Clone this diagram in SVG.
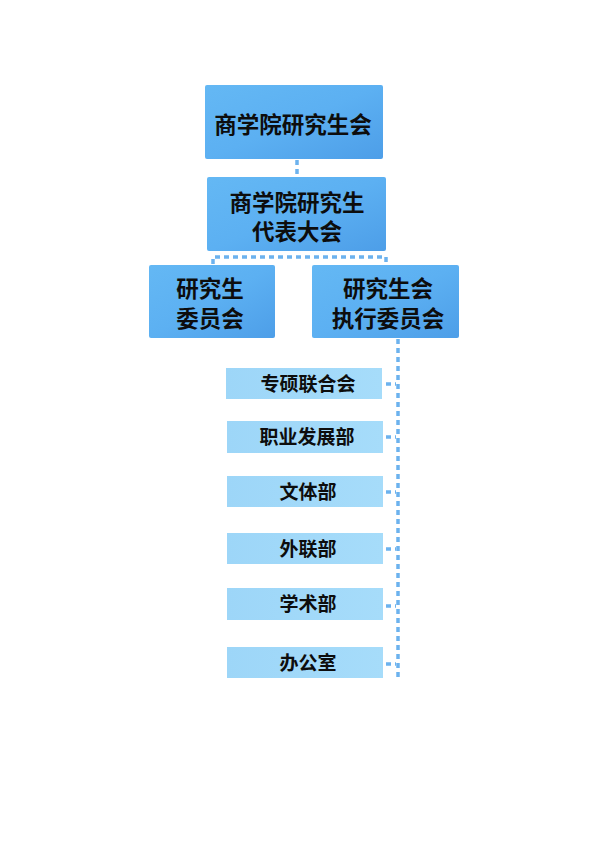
<svg xmlns="http://www.w3.org/2000/svg" width="595" height="842" viewBox="0 0 595 842">
<defs>
<linearGradient id="big" x1="0" y1="0" x2="1" y2="1">
<stop offset="0" stop-color="#64b8f4"/>
<stop offset="0.5" stop-color="#5cb0f2"/>
<stop offset="1" stop-color="#4d9ee8"/>
</linearGradient>
<linearGradient id="small" x1="0" y1="0" x2="1" y2="0">
<stop offset="0" stop-color="#9dd6f8"/>
<stop offset="1" stop-color="#a6dcfa"/>
</linearGradient>
<style>
.big{fill:url(#big);}
.small{fill:url(#small);}
.t{font-family:"Noto Sans CJK SC","Noto Sans",sans-serif;font-weight:bold;fill:#0d0d0d;text-anchor:middle;}
.tb{font-size:22.5px;}
.ts{font-size:19px;}
.c{stroke:#6cb2ee;stroke-width:3.5;fill:none;stroke-dasharray:5 4;}
</style>
</defs>
<rect width="595" height="842" fill="#ffffff"/>
<g id="connectors">
<line class="c" x1="297" y1="160" x2="297" y2="177"/>
<path class="c" d="M213 264 V257 H386 V264"/>
<line class="c" x1="398" y1="339" x2="398" y2="678" stroke-dasharray="6 5"/>
<line class="c" x1="386" y1="384" x2="396" y2="384" stroke-dasharray="6 3"/>
<line class="c" x1="386" y1="437" x2="396" y2="437" stroke-dasharray="6 3"/>
<line class="c" x1="386" y1="492" x2="396" y2="492" stroke-dasharray="6 3"/>
<line class="c" x1="386" y1="549" x2="396" y2="549" stroke-dasharray="6 3"/>
<line class="c" x1="386" y1="606" x2="396" y2="606" stroke-dasharray="6 3"/>
<line class="c" x1="386" y1="664" x2="396" y2="664" stroke-dasharray="6 3"/>
</g>
<g id="n1">
<rect class="big" x="205" y="85" width="178" height="74" rx="2"/>
<text class="t tb" x="293" y="133">商学院研究生会</text>
</g>
<g id="n2">
<rect class="big" x="207" y="177" width="179" height="74" rx="2"/>
<text class="t tb" x="297" y="211">商学院研究生</text>
<text class="t tb" x="297" y="240">代表大会</text>
</g>
<g id="n3">
<rect class="big" x="149" y="265" width="126" height="73" rx="2"/>
<text class="t tb" x="210" y="297">研究生</text>
<text class="t tb" x="210" y="327">委员会</text>
</g>
<g id="n4">
<rect class="big" x="312" y="265" width="147" height="73" rx="2"/>
<text class="t tb" x="388" y="297">研究生会</text>
<text class="t tb" x="388" y="327">执行委员会</text>
</g>
<g id="n5">
<rect class="small" x="226" y="368" width="156" height="31"/>
<text class="t ts" x="308" y="391">专硕联合会</text>
</g>
<g id="n6">
<rect class="small" x="227" y="421" width="156" height="32"/>
<text class="t ts" x="307" y="444">职业发展部</text>
</g>
<g id="n7">
<rect class="small" x="227" y="476" width="156" height="31"/>
<text class="t ts" x="308" y="499">文体部</text>
</g>
<g id="n8">
<rect class="small" x="227" y="533" width="156" height="31"/>
<text class="t ts" x="308" y="556">外联部</text>
</g>
<g id="n9">
<rect class="small" x="227" y="588" width="156" height="32"/>
<text class="t ts" x="308" y="611">学术部</text>
</g>
<g id="n10">
<rect class="small" x="227" y="647" width="156" height="31"/>
<text class="t ts" x="308" y="670">办公室</text>
</g>
</svg>
